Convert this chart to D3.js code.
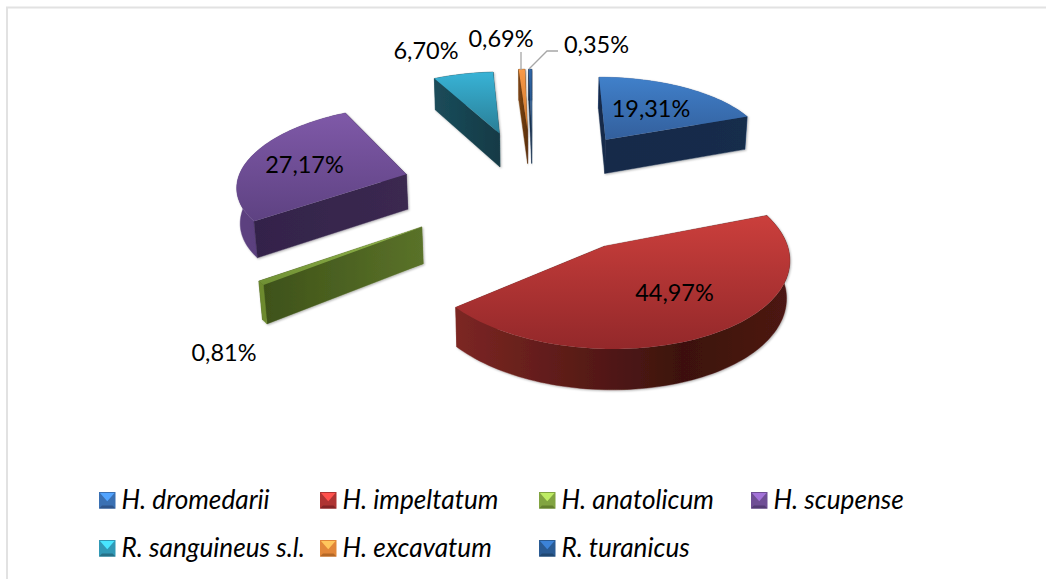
<!DOCTYPE html>
<html><head><meta charset="utf-8">
<script src="https://cdnjs.cloudflare.com/ajax/libs/d3/7.8.5/d3.min.js"></script>
<style>html,body{margin:0;padding:0;background:#fff}svg{display:block}text{font-family:Lato,Carlito,"Open Sans",sans-serif;fill:#000}</style>
</head><body><svg id="c" width="1046" height="579"></svg>
<script>
const categories=["H. dromedarii","H. impeltatum","H. anatolicum","H. scupense","R. sanguineus s.l.","H. excavatum","R. turanicus"];
const values=[19.31,44.97,0.81,27.17,6.70,0.69,0.35];
const labels=["19,31%","44,97%","0,81%","27,17%","6,70%","0,69%","0,35%"];
const explode=[0.80,0.79,0.78,0.78,0.78,0.80,0.80];
const topLight=["#4080ca","#cb3f3c","#94b84e","#7f59a8","#38b3d6","#fa9a48","#2f66a8"];
const topDark=["#335f9c","#93282a","#6f8f33","#5e4282","#2a7e96","#c9742a","#24507f"];
const wallLeft=["#16294a","#7c2623","#3e5219","#33234a","#1b4c5a","#7a4313","#17304f"];
const wallRight=["#172d4b","#47140f","#5a7229","#3b2950","#133a46","#5c300c","#17304f"];
const rimLeft=["#2d5a99","#7c2623","#6d8a2f","#5c4080","#1b4c5a","#7a4313","#17304f"];
const rimMid=["#2d5a99","#3c110e","#6d8a2f","#553b78","#1b4c5a","#7a4313","#17304f"];
const rimRight=["#2d5a99","#4d1612","#6d8a2f","#4a3368","#133a46","#5c300c","#17304f"];
const labelX=[651,674.5,224,304.5,426,501,596.5];
const labelY=[108,292,352,164,50,38,44];
const legendX=[99,320,539,751,99,320,539];
const legendY=[500,500,500,500,548,548,548];

const svg=d3.select("#c");
const defs=svg.append("defs");
svg.append("path").attr("d","M7,579V7.5H1046").attr("fill","none").attr("stroke","#e2e2e2").attr("stroke-width",2);
const Cx=533,Cy=188,A=170,B=78.5,P=0.105,D=35.5,Q=0.012;
const proj=(u,v,z)=>{const s=1/(1+P*v+Q*z);return [Cx+A*u*s, Cy-B*v*s+D*z/(1+P*v)];};
const arcs=d3.pie().sort(null).startAngle(0).endAngle(2*Math.PI).value(d=>d)(values);

defs.append("filter").attr("id","sh").attr("x","-10%").attr("y","-10%").attr("width","125%").attr("height","125%")
 .append("feDropShadow").attr("dx",1).attr("dy",1).attr("stdDeviation",1.2).attr("flood-color","#000").attr("flood-opacity",0.3);

arcs.forEach((a,i)=>{
  const g1=defs.append("linearGradient").attr("id","t"+i).attr("x1",0).attr("x2",0).attr("y1",0).attr("y2",1);
  g1.append("stop").attr("offset",0).attr("stop-color",topLight[i]);
  g1.append("stop").attr("offset",1).attr("stop-color",topDark[i]);
  const g2=defs.append("linearGradient").attr("id","w"+i).attr("x1",0).attr("x2",1).attr("y1",0).attr("y2",0);
  g2.append("stop").attr("offset",0).attr("stop-color",wallLeft[i]);
  g2.append("stop").attr("offset",1).attr("stop-color",wallRight[i]);
  const g3=defs.append("linearGradient").attr("id","r"+i).attr("x1",0).attr("x2",1).attr("y1",0).attr("y2",0);
  g3.append("stop").attr("offset",0).attr("stop-color",rimLeft[i]);
  g3.append("stop").attr("offset",0.68).attr("stop-color",rimMid[i]);
  g3.append("stop").attr("offset",1).attr("stop-color",rimRight[i]);
});

const line=d3.line();
const order=d3.range(values.length).sort((p,q)=>{
  const m=a=>Math.cos((a.startAngle+a.endAngle)/2)*explode[arcs.indexOf(a)];
  return m(arcs[q])-m(arcs[p]);
});
order.forEach(i=>{
  const a=arcs[i],mid=(a.startAngle+a.endAngle)/2,e=explode[i];
  const u0=e*Math.sin(mid),v0=e*Math.cos(mid);
  const n=Math.max(2,Math.ceil((a.endAngle-a.startAngle)/0.03));
  const ts=d3.range(n+1).map(k=>a.startAngle+(a.endAngle-a.startAngle)*k/n);
  const rim=ts.map(t=>[u0+Math.sin(t),v0+Math.cos(t)]);
  const g=svg.append("g");
  const wg=g.append("g").attr("filter","url(#sh)");
  const quad=(pts)=>pts.map(p=>proj(p[0],p[1],0)).concat(pts.slice().reverse().map(p=>proj(p[0],p[1],1)));
  const walls=[{pts:[[u0,v0],rim[0]],f:"w"},{pts:[[u0,v0],rim[n]],f:"w"},{pts:rim,f:"r"}];
  walls.map(w=>({...w,k:d3.mean(w.pts,p=>p[1])})).sort((x,y)=>y.k-x.k).forEach(w=>{
    wg.append("path").attr("d",line(quad(w.pts))+"Z").attr("fill",`url(#${w.f}${i})`).attr("stroke",`url(#${w.f}${i})`).attr("stroke-width",0.4);
  });
  g.append("path").attr("d",line([[u0,v0],...rim].map(p=>proj(p[0],p[1],0)))+"Z").attr("fill",`url(#t${i})`);
});

// leader lines
const lead=[[[521,70],[521,52]],[[529,69],[547,51],[558,51]]];
lead.forEach(l=>svg.append("path").attr("d",line(l)).attr("fill","none").attr("stroke","#a6a6a6").attr("stroke-width",1.3));

svg.selectAll("text.v").data(labels).join("text").attr("class","v")
 .attr("x",(d,i)=>labelX[i]).attr("y",(d,i)=>labelY[i]).attr("text-anchor","middle").attr("dominant-baseline","central")
 .attr("font-size",23.5).text(d=>d);

const S=16.5;
categories.forEach((c,i)=>{
  const g=svg.append("g").attr("transform",`translate(${legendX[i]},${legendY[i]-8})`);
  const c0=d3.color(topLight[i]),cd=d3.color(topDark[i]);
  const side=d3.interpolateRgb(topLight[i],topDark[i])(0.5);
  const m=S/2;
  g.append("rect").attr("width",S).attr("height",S).attr("fill",side);
  g.append("path").attr("d",line([[1,1],[S-1,1],[m,m+1]])+"Z").attr("fill",c0.brighter(0.7).formatHex());
  g.append("path").attr("d",line([[0,S],[S,S],[S-3,S-3],[3,S-3]])+"Z").attr("fill",cd.darker(0.3).formatHex());
  g.append("text").attr("x",S+6).attr("y",7).attr("dominant-baseline","central").attr("font-style","italic").attr("font-size",26.2).text(c);
});
</script></body></html>
